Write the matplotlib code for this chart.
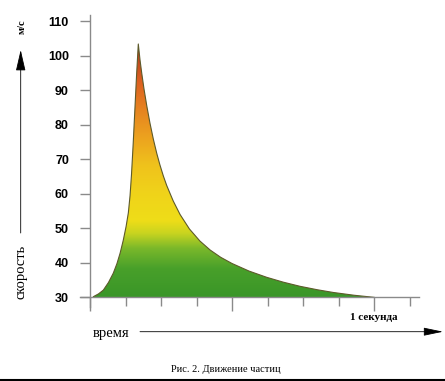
import matplotlib
matplotlib.use('Agg')
import matplotlib.pyplot as plt
import numpy as np
from matplotlib.colors import LinearSegmentedColormap
from matplotlib.patches import Polygon

# speed of the particle (m/s) over time (s)
t = [0.012, 0.030, 0.047, 0.065, 0.082, 0.095, 0.106, 0.117, 0.127, 0.135,
     0.141, 0.146, 0.152, 0.158, 0.164, 0.170, 0.176, 0.182, 0.190, 0.200,
     0.211, 0.223, 0.235, 0.246, 0.258, 0.270, 0.293, 0.317, 0.350, 0.387,
     0.423, 0.460, 0.500, 0.560, 0.622, 0.680, 0.739, 0.800, 0.857, 0.930,
     1.000]
v = [30.2, 31.0, 32.1, 34.3, 37.0, 39.8, 42.8, 46.5, 50.5, 54.5,
     59.5, 65.5, 74.5, 84.5, 94.5, 103.4, 98.8, 95.0, 90.4, 85.4,
     80.5, 75.8, 71.7, 68.4, 65.2, 62.4, 57.9, 54.0, 49.8, 46.3,
     43.7, 41.6, 39.8, 37.6, 35.8, 34.4, 33.2, 32.2, 31.4, 30.6,
     30.0]

y_ticks = [30, 40, 50, 60, 70, 80, 90, 100, 110]
x_major = [0, 0.5, 1.0]
x_minor = [0.125, 0.25, 0.375, 0.625, 0.75, 0.875, 1.125]

W, H = 445, 381


def fx(x):
    return x / W


def fy(y):
    return 1 - y / H


fig = plt.figure(figsize=(W / 100, H / 100), dpi=100)
fig.patch.set_facecolor('white')

ax = fig.add_axes([fx(80), fy(307), (419 - 80) / W, (307 - 15) / H])
ax.set_xlim(-0.0352, 1.158)
ax.set_ylim(27.2, 111.8)
ax.set_facecolor('none')

# gradient fill clipped to the curve
grad = LinearSegmentedColormap.from_list('speed', [
    (0.00, '#3a9628'), (0.11, '#48a02a'), (0.19, '#7ab82a'),
    (0.25, '#c8d420'), (0.30, '#eedd18'), (0.41, '#f0d31a'),
    (0.52, '#efc21c'), (0.63, '#eca21f'), (0.74, '#e6831f'),
    (0.85, '#dd6020'), (0.96, '#b8421c'), (1.00, '#7a3a20')])
img = ax.imshow(np.linspace(0, 1, 256).reshape(-1, 1), cmap=grad, origin='lower',
                extent=[0, 1.0, 30, 103.5], aspect='auto', zorder=1)
poly = Polygon(list(zip(t, v)) + [(t[0], 30)], closed=True, transform=ax.transData,
               facecolor='none', edgecolor='none')
ax.add_patch(poly)
img.set_clip_path(poly)
ax.plot(t, v, color='#5d5a2a', lw=0.8, zorder=2)

for s in ['top', 'right']:
    ax.spines[s].set_visible(False)
ax.spines['left'].set_position(('data', 0))
ax.spines['bottom'].set_position(('data', 30))
for s in ['left', 'bottom']:
    ax.spines[s].set_color('#8a8a8a')
    ax.spines[s].set_linewidth(1.0)

ax.set_yticks(y_ticks)
ax.set_yticklabels([str(y) for y in y_ticks])
ax.tick_params(axis='y', direction='out', length=7.2, width=1, color='#8a8a8a',
               pad=8, labelsize=9)
for lab in ax.get_yticklabels():
    lab.set_fontfamily(['Liberation Sans Narrow', 'Liberation Sans'])
    lab.set_fontweight('bold')

ax.set_xticks(x_major)
ax.set_xticks(x_minor, minor=True)
ax.set_xticklabels([])
ax.tick_params(axis='x', which='major', direction='out', length=10, width=1, color='#8a8a8a')
ax.tick_params(axis='x', which='minor', direction='out', length=6.5, width=1, color='#8a8a8a')

serif = 'Liberation Serif'

# axis captions and arrows
fig.text(fx(21), fy(272), 'скорость', rotation=90, ha='center', va='center',
         family=serif, fontsize=10.5)
fig.text(fx(22), fy(27), 'м/с', rotation=90, ha='center', va='center',
         family=serif, fontsize=7.5, fontweight='bold')
ax.annotate('', xy=(fx(20.7), fy(50)), xytext=(fx(20.7), fy(233)),
            xycoords='figure fraction', textcoords='figure fraction',
            arrowprops=dict(arrowstyle='-|>,head_length=1.3,head_width=0.3',
                            color='black', lw=0.6, shrinkA=0, shrinkB=0))

fig.text(fx(111), fy(333), 'время', ha='center', va='center',
         family=serif, fontsize=10.5)
ax.annotate('', xy=(fx(443), fy(331.7)), xytext=(fx(140), fy(331.7)),
            xycoords='figure fraction', textcoords='figure fraction',
            arrowprops=dict(arrowstyle='-|>,head_length=1.2,head_width=0.25',
                            color='black', lw=0.6, shrinkA=0, shrinkB=0))

fig.text(fx(374), fy(318), '1 секунда', ha='center', va='center',
         family=serif, fontsize=8, fontweight='bold')

fig.text(fx(226), fy(369), 'Рис. 2. Движение частиц', ha='center', va='center',
         family=serif, fontsize=7.5)

fig.add_artist(plt.Line2D([0, 1], [fy(379.5), fy(379.5)], transform=fig.transFigure,
                          color='black', lw=1.5))

fig.savefig('out.png', dpi=100)
